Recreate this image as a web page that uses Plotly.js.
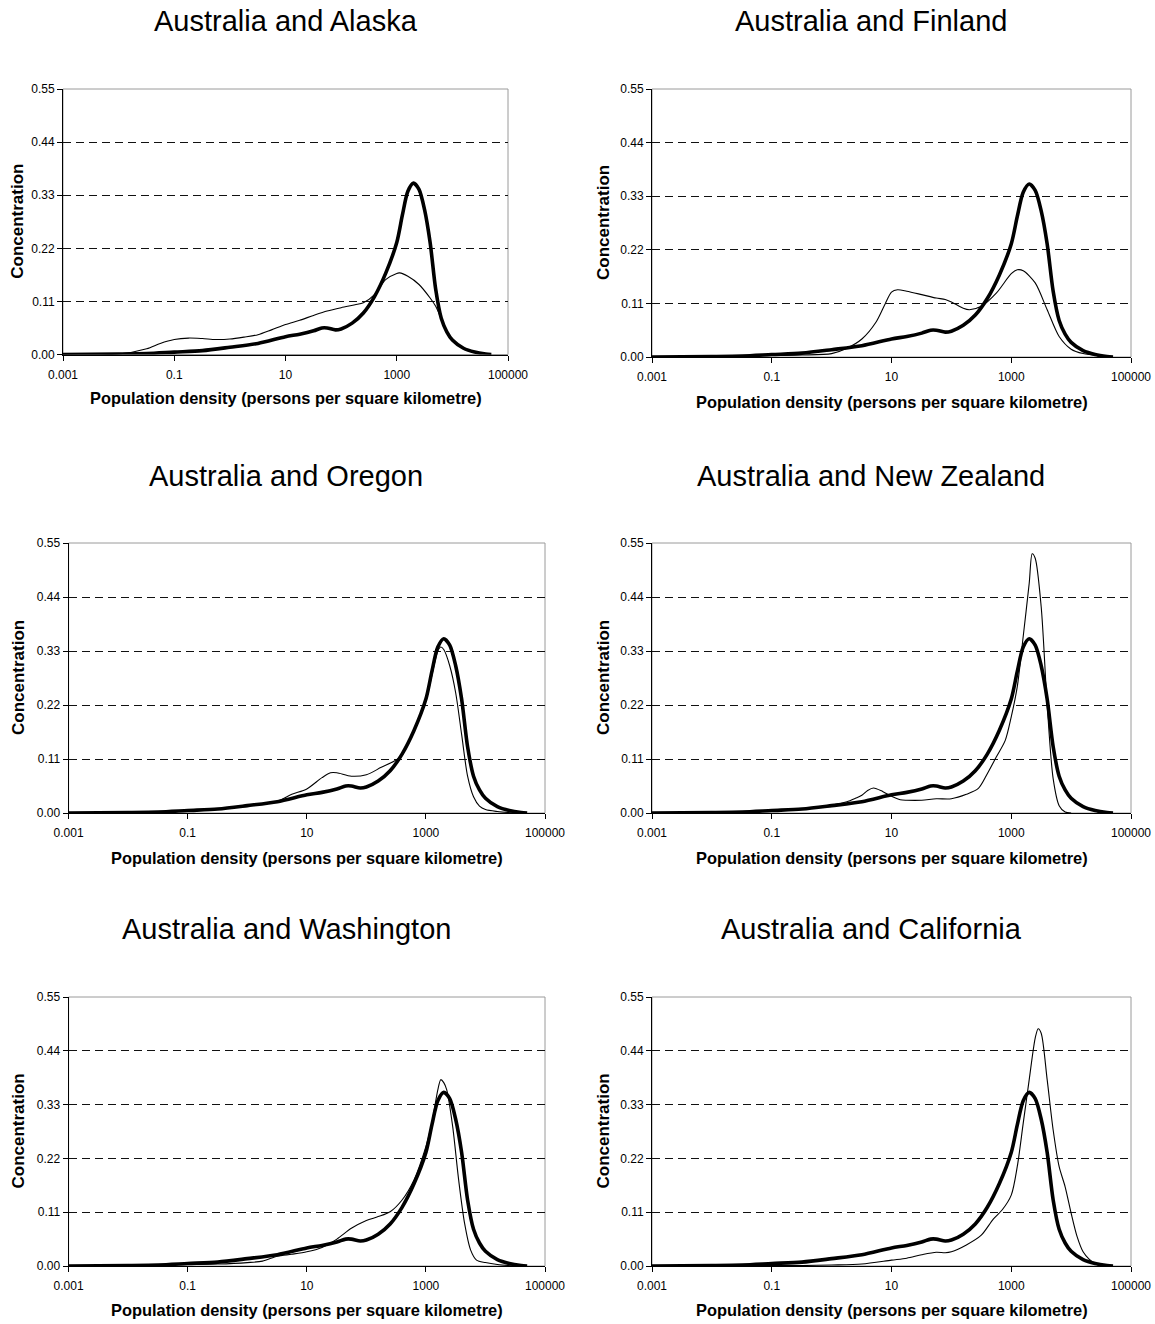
<!DOCTYPE html>
<html>
<head>
<meta charset="utf-8">
<script src="https://cdn.plot.ly/plotly-3.0.1.min.js"></script>
<style>html,body{margin:0;padding:0;background:#fff;}#chart{width:1155px;height:1324px;}</style>
</head>
<body>
<div id="chart"></div>
<script>
// ---------- Data ----------
const panelTitles = ["Australia and Alaska", "Australia and Finland", "Australia and Oregon",
                     "Australia and New Zealand", "Australia and Washington", "Australia and California"];
const xTickVals = [0.001, 0.1, 10, 1000, 100000];
const xTickText = ["0.001", "0.1", "10", "1000", "100000"];
const yTickVals = [0, 0.11, 0.22, 0.33, 0.44, 0.55];
const yTickText = ["0.00", "0.11", "0.22", "0.33", "0.44", "0.55"];
const xAxisTitle = "Population density (persons per square kilometre)";
const yAxisTitle = "Concentration";

// Australia (thick line, identical in every panel)
const australiaDensity = [0.001, 0.01, 0.032, 0.1, 0.32, 1, 3.2, 10, 18, 32, 45, 56, 79, 100, 158, 251, 398, 631,
  1000, 1259, 1585, 1995, 2512, 3162, 3981, 5012, 6310, 7943, 10000, 15849, 25119, 39811, 50119];
const australiaConc = [0, 0.001, 0.002, 0.005, 0.008, 0.015, 0.023, 0.037, 0.042, 0.049, 0.055, 0.055, 0.051, 0.053, 0.065, 0.086, 0.12, 0.168,
  0.232, 0.288, 0.338, 0.355, 0.342, 0.3, 0.232, 0.135, 0.075, 0.047, 0.03, 0.013, 0.005, 0.001, 0];

// Alaska
const alaskaDensity = [0.001, 0.01, 0.032, 0.056, 0.1, 0.18, 0.32, 0.56, 1, 1.8, 3.2, 5.6, 10, 18, 32, 56, 100, 178, 251, 398, 631,
  1000, 1122, 1585, 2512, 3981, 5012, 5754, 6310, 7943, 10000, 15849, 25119, 39811, 50119];
const alaskaConc = [0, 0.001, 0.012, 0.023, 0.031, 0.034, 0.033, 0.031, 0.032, 0.036, 0.041, 0.051, 0.062, 0.071, 0.081, 0.09, 0.097, 0.103, 0.107, 0.124, 0.155,
  0.168, 0.169, 0.162, 0.145, 0.117, 0.1, 0.085, 0.075, 0.047, 0.03, 0.013, 0.005, 0.001, 0];

// Finland
const finlandDensity = [0.001, 0.01, 0.1, 0.32, 1, 1.8, 3.2, 5.6, 7.9, 10, 12.6, 18, 32, 56, 79, 100, 158, 200, 316, 562,
  1000, 1259, 1585, 2512, 3981, 6310, 10000, 15849, 31623, 50119];
const finlandConc = [0, 0.001, 0.003, 0.004, 0.007, 0.018, 0.037, 0.073, 0.11, 0.133, 0.138, 0.135, 0.128, 0.121, 0.118, 0.113, 0.1, 0.097, 0.104, 0.131,
  0.171, 0.179, 0.177, 0.152, 0.097, 0.042, 0.016, 0.007, 0.002, 0];

// Oregon
const oregonDensity = [0.001, 0.01, 0.1, 0.32, 1, 3.2, 5.6, 10, 18, 25, 32, 56, 100, 178, 316, 398, 631,
  1000, 1259, 1585, 1778, 1995, 2512, 3162, 3981, 5012, 6310, 7943, 10000, 15849, 31623];
const oregonConc = [0, 0.001, 0.005, 0.008, 0.015, 0.024, 0.038, 0.049, 0.072, 0.082, 0.082, 0.075, 0.078, 0.093, 0.108, 0.118, 0.168,
  0.228, 0.28, 0.33, 0.338, 0.333, 0.3, 0.245, 0.16, 0.075, 0.033, 0.014, 0.007, 0.003, 0];

// New Zealand
const newZealandDensity = [0.001, 0.01, 0.1, 0.32, 1, 1.8, 2.5, 3.2, 4, 5, 7.1, 10, 14, 18, 32, 56, 100, 178, 282, 398, 562, 794,
  1000, 1259, 1585, 1995, 2239, 2512, 3162, 3981, 5012, 6310, 7943, 10000];
const newZealandConc = [0, 0.001, 0.005, 0.008, 0.016, 0.023, 0.03, 0.036, 0.046, 0.051, 0.044, 0.034, 0.027, 0.026, 0.026, 0.029, 0.029, 0.038, 0.05, 0.08, 0.114, 0.148,
  0.196, 0.257, 0.36, 0.468, 0.528, 0.519, 0.42, 0.22, 0.07, 0.015, 0.002, 0];

// Washington
const washingtonDensity = [0.001, 0.01, 0.1, 0.32, 1, 1.8, 3.2, 5.6, 10, 18, 32, 56, 100, 158, 251, 398, 631,
  1000, 1259, 1585, 1778, 1995, 2239, 2818, 3548, 4467, 5623, 7079, 10000, 15849, 31623];
const washingtonConc = [0, 0.001, 0.003, 0.004, 0.007, 0.01, 0.02, 0.024, 0.029, 0.038, 0.055, 0.077, 0.093, 0.101, 0.111, 0.135, 0.176,
  0.244, 0.292, 0.36, 0.381, 0.375, 0.36, 0.285, 0.176, 0.087, 0.033, 0.012, 0.007, 0.003, 0];

// California
const californiaDensity = [0.001, 0.01, 0.1, 0.32, 1, 3.2, 10, 18, 32, 56, 79, 100, 178, 316, 501, 708,
  1000, 1259, 1585, 1995, 2512, 2818, 3162, 3981, 5012, 6310, 7943, 10000, 12589, 15849, 19953, 25119, 39811, 50119];
const californiaConc = [0, 0, 0.001, 0.001, 0.002, 0.004, 0.012, 0.016, 0.023, 0.028, 0.027, 0.029, 0.043, 0.063, 0.096, 0.115,
  0.145, 0.203, 0.292, 0.381, 0.466, 0.485, 0.476, 0.381, 0.278, 0.203, 0.162, 0.108, 0.06, 0.029, 0.014, 0.005, 0.001, 0];

const comparisonDensity = [alaskaDensity, finlandDensity, oregonDensity, newZealandDensity, washingtonDensity, californiaDensity];
const comparisonConc = [alaskaConc, finlandConc, oregonConc, newZealandConc, washingtonConc, californiaConc];
const comparisonNames = ["Alaska", "Finland", "Oregon", "New Zealand", "Washington", "California"];

// ---------- Layout geometry (pixels) ----------
const W = 1155, H = 1324;
const boxes = [
  {x0: 63,  x1: 508,  y0: 89,  y1: 354.5, tx: 286, ty: 21,  ytx: 18,  xty: 398},
  {x0: 652, x1: 1131, y0: 89,  y1: 357,   tx: 871, ty: 21,  ytx: 603, xty: 402},
  {x0: 68.6,x1: 545,  y0: 543, y1: 813,   tx: 286, ty: 476, ytx: 18,  xty: 858},
  {x0: 652, x1: 1131, y0: 543, y1: 813,   tx: 871, ty: 476, ytx: 603, xty: 858},
  {x0: 68.6,x1: 545,  y0: 997, y1: 1266,  tx: 286, ty: 929, ytx: 18,  xty: 1310},
  {x0: 652, x1: 1131, y0: 997, y1: 1266,  tx: 871, ty: 929, ytx: 603, xty: 1310}
];
const px = v => v / W;
const py = v => 1 - v / H;

const FONT = "Liberation Sans, Arial, sans-serif";
const traces = [];
const layout = {
  width: W, height: H,
  margin: {l: 0, r: 0, t: 0, b: 0},
  paper_bgcolor: "#fff", plot_bgcolor: "#fff",
  showlegend: false,
  font: {family: FONT, color: "#000"},
  annotations: [], shapes: []
};

boxes.forEach((b, i) => {
  const n = i + 1;
  const xa = "x" + (n === 1 ? "" : n), ya = "y" + (n === 1 ? "" : n);
  const xk = "xaxis" + (n === 1 ? "" : n), yk = "yaxis" + (n === 1 ? "" : n);
  layout[xk] = {
    type: "log", range: [-3, 5], domain: [px(b.x0), px(b.x1)], anchor: ya,
    tickmode: "array", tickvals: xTickVals, ticktext: xTickText,
    ticks: "outside", ticklen: 5, tickwidth: 1, tickcolor: "#000",
    ticklabelstandoff: 4,
    showline: true, linecolor: "#000", linewidth: 1,
    showgrid: false, zeroline: false, fixedrange: true,
    ticklabeloverflow: "allow",
    tickfont: {family: FONT, size: 12, color: "#000"}
  };
  layout[yk] = {
    range: [0, 0.55], domain: [py(b.y1), py(b.y0)], anchor: xa,
    tickmode: "array", tickvals: yTickVals, ticktext: yTickText,
    ticks: "outside", ticklen: 5, tickwidth: 1, tickcolor: "#000",
    showline: true, linecolor: "#000", linewidth: 1,
    showgrid: true, gridcolor: "#111", gridwidth: 1, griddash: "8px,5px",
    zeroline: false, fixedrange: true,
    tickfont: {family: FONT, size: 12, color: "#000"}
  };
  layout.shapes.push({
    type: "rect", xref: xa + " domain", yref: ya + " domain",
    x0: 0, x1: 1, y0: 0, y1: 1, line: {color: "#9a9a9a", width: 1}, layer: "below"
  });
  layout.annotations.push({
    text: panelTitles[i], xref: "paper", yref: "paper", x: px(b.tx), y: py(b.ty),
    xanchor: "center", yanchor: "middle", showarrow: false,
    font: {family: FONT, size: 29, color: "#000"}
  });
  layout.annotations.push({
    text: "<b>" + yAxisTitle + "</b>", xref: "paper", yref: "paper",
    x: px(b.ytx), y: py((b.y0 + b.y1) / 2), textangle: -90,
    xanchor: "center", yanchor: "middle", showarrow: false,
    font: {family: FONT, size: 17, color: "#000"}
  });
  layout.annotations.push({
    text: "<b>" + xAxisTitle + "</b>", xref: "paper", yref: "paper",
    x: px((b.x0 + b.x1) / 2), y: py(b.xty),
    xanchor: "center", yanchor: "middle", showarrow: false,
    font: {family: FONT, size: 16.4, color: "#000"}
  });
  traces.push({
    x: comparisonDensity[i], y: comparisonConc[i], xaxis: xa, yaxis: ya,
    type: "scatter", mode: "lines", name: comparisonNames[i],
    line: {color: "#000", width: 1.1, shape: "spline", smoothing: 0.8},
    hoverinfo: "skip"
  });
  traces.push({
    x: australiaDensity, y: australiaConc, xaxis: xa, yaxis: ya,
    type: "scatter", mode: "lines", name: "Australia",
    line: {color: "#000", width: 3.6, shape: "spline", smoothing: 0.8},
    hoverinfo: "skip"
  });
});

Plotly.newPlot("chart", traces, layout, {staticPlot: true, displayModeBar: false});
</script>
</body>
</html>
